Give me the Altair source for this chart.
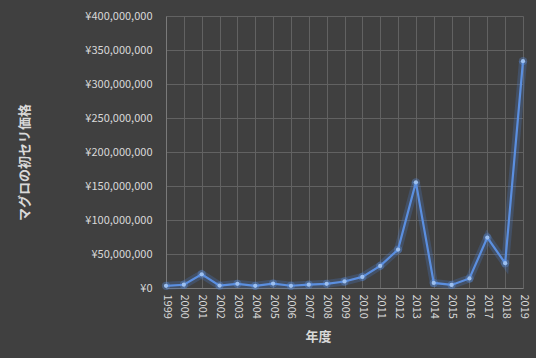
import altair as alt
import pandas as pd

years = list(range(1999, 2020))
prices = [3200000, 4800000, 20200000, 3500000, 6100000, 3200000, 6500000, 3300000,
          4900000, 6100000, 9600000, 16300000, 32500000, 56500000, 155400000,
          7400000, 4500000, 14000000, 74200000, 36500000, 333600000]

df = pd.DataFrame({"year": years, "price": prices})

FONT = "Noto Sans CJK JP"
TXT = "#d9d9d9"

x = alt.X("year:Q",
          scale=alt.Scale(domain=[1999, 2019], nice=False, zero=False),
          axis=alt.Axis(values=years, format="d", labelAngle=90, labelAlign="left",
                        labelBaseline="middle", labelPadding=6, title="年度",
                        titleX=152, titleY=42, titleFontSize=13, titleFontWeight="bold",
                        tickSize=0, labelFontSize=11, grid=True))
y = alt.Y("price:Q",
          scale=alt.Scale(domain=[0, 400000000], nice=False),
          axis=alt.Axis(values=list(range(0, 400000001, 50000000)),
                        labelExpr="'¥' + format(datum.value, ',')",
                        title="マグロの初セリ価格", titleFontSize=13, titleFontWeight="bold",
                        titleX=-135, titleY=146, titleAlign="center",
                        tickSize=0, labelPadding=14, labelFontSize=11, grid=True))

glow = alt.Chart(df).mark_line(color="#4a7fd4", strokeWidth=8, opacity=0.25).encode(x=x, y=y)
line = alt.Chart(df).mark_line(color="#5b8fe0", strokeWidth=2.2).encode(x=x, y=y)
pglow = alt.Chart(df).mark_circle(color="#5b8fe0", size=70, opacity=0.35).encode(x=x, y=y)
pts = alt.Chart(df).mark_circle(color="#9dc0f0", size=18, opacity=1).encode(x=x, y=y)

chart = alt.layer(glow, line, pglow, pts).properties(
    width=357, height=272,
    background="#404040",
    padding={"left": 166, "top": 16, "right": 13, "bottom": 70},
    autosize=alt.AutoSizeParams(type="none"),
).configure_view(stroke=None).configure_axis(
    labelFont=FONT, titleFont=FONT, labelColor=TXT, titleColor=TXT,
    gridColor="#626262", gridWidth=1, domainColor="#7a7a7a", domainWidth=1,
)

chart.save("out.html", embed_options={"renderer": "svg", "actions": False})
